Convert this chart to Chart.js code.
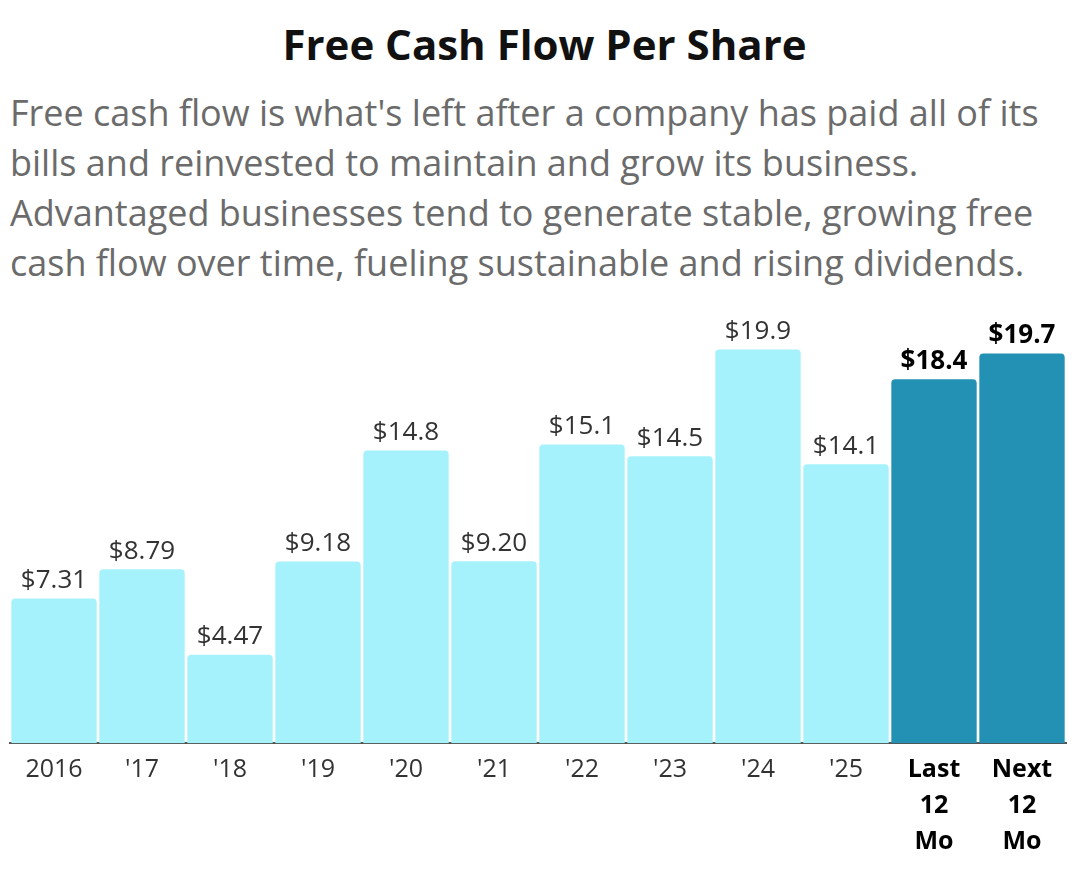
<!DOCTYPE html>
<html>
<head>
<meta charset="utf-8">
<script src="https://cdn.jsdelivr.net/npm/chart.js@4/dist/chart.umd.min.js"></script>
<style>
  body { margin: 0; width: 1089px; height: 892px; font-family: "Open Sans", sans-serif; background: #fff; overflow: hidden; }
  h1 { margin: 0; padding-top: 16px; text-align: center; font-size: 42px; font-weight: 700; color: #111; line-height: 56px; }
  p { margin: 16px 0 0 10px; font-size: 36px; line-height: 50px; color: #6b6b6b; white-space: nowrap; }
  #wrap { position: absolute; left: 0; top: 300px; width: 1080px; height: 562px; }
</style>
</head>
<body>
<h1>Free Cash Flow Per Share</h1>
<p>Free cash flow is what's left after a company has paid all of its<br>bills and reinvested to maintain and grow its business.<br>Advantaged businesses tend to generate stable, growing free<br>cash flow over time, fueling sustainable and rising dividends.</p>
<div id="wrap"><canvas id="c"></canvas></div>
<script>
var categories = ['2016', "'17", "'18", "'19", "'20", "'21", "'22", "'23", "'24", "'25", ['Last', '12', 'Mo'], ['Next', '12', 'Mo']];
var values = [7.31, 8.79, 4.47, 9.18, 14.8, 9.20, 15.1, 14.5, 19.9, 14.1, 18.4, 19.7];
var valueLabels = ['$7.31', '$8.79', '$4.47', '$9.18', '$14.8', '$9.20', '$15.1', '$14.5', '$19.9', '$14.1', '$18.4', '$19.7'];
var estimated = [false, false, false, false, false, false, false, false, false, false, true, true];

var labelPlugin = {
  id: 'vals',
  afterDatasetsDraw: function(chart) {
    var ctx = chart.ctx;
    chart.getDatasetMeta(0).data.forEach(function(bar, i) {
      ctx.save();
      ctx.font = (estimated[i] ? 'bold ' : '') + '26px "Open Sans"';
      ctx.fillStyle = estimated[i] ? '#000' : '#333';
      ctx.textAlign = 'center';
      ctx.textBaseline = 'bottom';
      ctx.fillText(valueLabels[i], bar.x, bar.y - 5);
      ctx.restore();
    });
  }
};

new Chart(document.getElementById('c'), {
  type: 'bar',
  data: {
    labels: categories,
    datasets: [{
      data: values,
      backgroundColor: estimated.map(function(e) { return e ? '#2391b3' : '#a6f2fc'; }),
      borderRadius: { topLeft: 4, topRight: 4 },
      borderSkipped: 'bottom',
      barPercentage: 0.97,
      categoryPercentage: 1
    }]
  },
  options: {
    responsive: true,
    maintainAspectRatio: false,
    animation: false,
    layout: { padding: { left: 10, right: 14, top: 0 } },
    plugins: { legend: { display: false }, tooltip: { enabled: false } },
    scales: {
      y: { display: false, min: 0, max: 22.4 },
      x: {
        grid: { display: false, drawTicks: true, tickLength: 6, color: '#555' },
        border: { color: '#555', width: 2 },
        ticks: {
          color: function(c) { return estimated[c.index] ? '#000' : '#333'; },
          font: function(c) { return { family: 'Open Sans', size: 25, weight: estimated[c.index] ? 'bold' : 'normal', lineHeight: 1.45 }; },
          maxRotation: 0, autoSkip: false, padding: 2
        }
      }
    }
  },
  plugins: [labelPlugin]
});
</script>
</body>
</html>
